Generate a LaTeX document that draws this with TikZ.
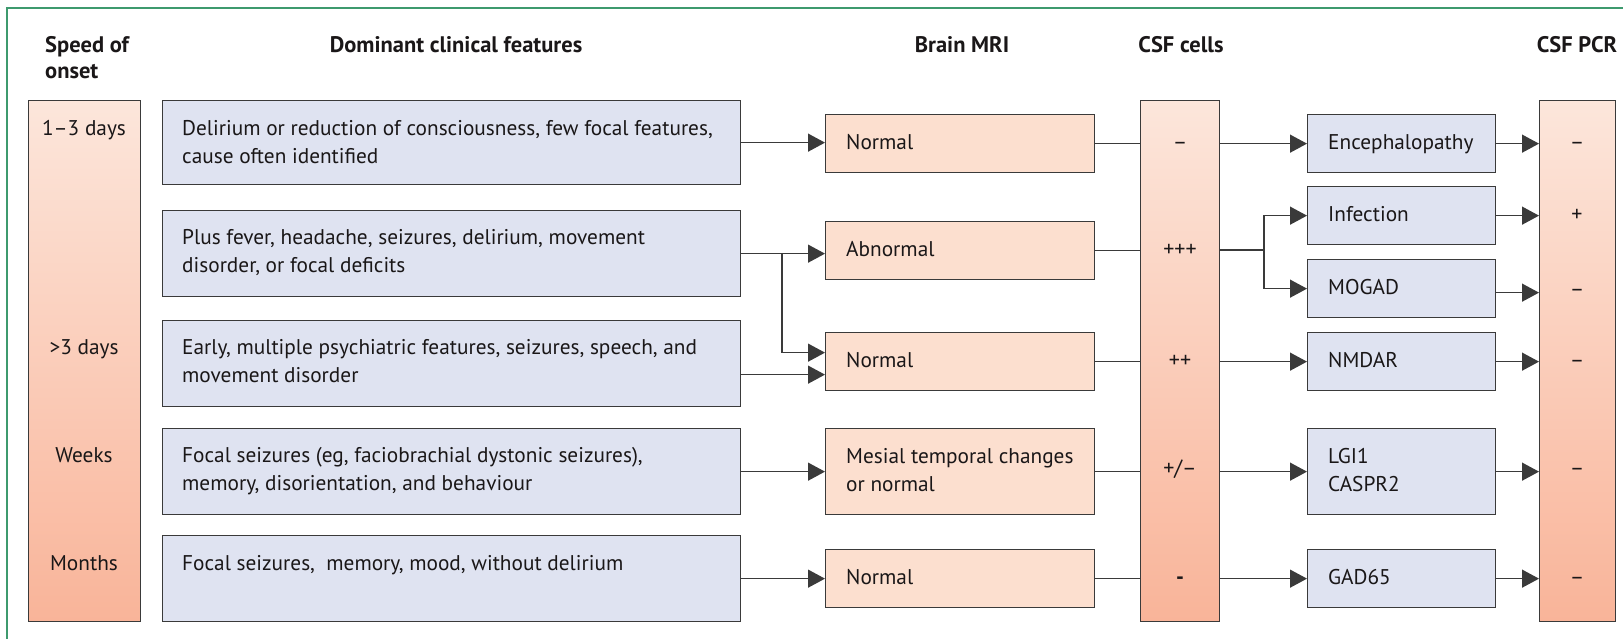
\documentclass[tikz,border=0pt]{standalone}
\usepackage{fontspec}
\setmainfont{PT Sans}
\usetikzlibrary{arrows.meta}

\definecolor{lav}{HTML}{DFE3F1}
\definecolor{mri}{HTML}{FCDFCF}
\definecolor{gradtop}{HTML}{FCE6DB}
\definecolor{gradbot}{HTML}{F9B499}
\definecolor{edge}{HTML}{3A3A3A}
\definecolor{ink}{HTML}{1A1718}
\definecolor{frame}{HTML}{3E9A6E}

\tikzset{
  box/.style={draw=edge, line width=1.3pt, inner sep=0pt, anchor=north west},
  clin/.style={box, fill=lav, minimum width=578pt},
  mribox/.style={box, fill=mri, minimum width=269pt},
  agent/.style={box, fill=lav, minimum width=188pt},
  column/.style={box, top color=gradtop, bottom color=gradbot, minimum height=521pt},
  head/.style={font=\fontsize{22.5}{26}\selectfont\bfseries, text=ink, inner sep=0pt, yshift=-6pt},
  body/.style={font=\fontsize{21.3}{28}\selectfont, text=ink, inner sep=0pt, align=left, yshift=-4pt},
  sign/.style={font=\fontsize{22}{24}\selectfont, text=ink, inner sep=0pt, yshift=-4pt},
  link/.style={draw=edge, line width=1.3pt},
  arr/.style={link, -{Triangle[length=17pt, width=18pt]}},
}

\begin{document}
\begin{tikzpicture}[x=1pt, y=-1pt]
\useasboundingbox (0,0) rectangle (1623,639);

% green frame (top and left rules)
\draw[frame, line width=1.5pt] (7,639) -- (7,8) -- (1623,8);

% column headings
\node[head, anchor=mid west, align=left] (h-speed) at (45,70) {Speed of\\onset};
\node[head, anchor=mid] (h-clin) at (456,44) {Dominant clinical features};
\node[head, anchor=mid] (h-mri) at (962,44) {Brain MRI};
\node[head, anchor=mid] (h-cells) at (1181,44) {CSF cells};
\node[head, anchor=mid] (h-pcr) at (1577,44) {CSF PCR};

% tall shaded columns
\node[column, minimum width=112pt] (speed) at (28,100) {};
\node[column, minimum width=79pt] (cells) at (1140,100) {};
\node[column, minimum width=76pt] (pcr) at (1539,100) {};

% speed of onset
\node[body, anchor=mid] (s1) at (84,129) {1–3 days};
\node[body, anchor=mid] (s2) at (84,348) {>3 days};
\node[body, anchor=mid] (s3) at (84,456) {Weeks};
\node[body, anchor=mid] (s4) at (84,564) {Months};

% clinical features
\node[clin, minimum height=84pt] (c1) at (162,100) {};
\node[clin, minimum height=86pt] (c2) at (162,210) {};
\node[clin, minimum height=86pt] (c3) at (162,320) {};
\node[clin, minimum height=86pt] (c4) at (162,428) {};
\node[clin, minimum height=86pt] (c5) at (162,535) {};
\node[body, anchor=mid west] (tc1) at (182,129) {Delirium or reduction of consciousness, few focal features,};
\node[body, anchor=mid west] (tc1b) at (182,157) {cause often identified};
\node[body, anchor=mid west] (tc2) at (182,238) {Plus fever, headache, seizures, delirium, movement};
\node[body, anchor=mid west] (tc2b) at (182,266) {disorder, or focal deficits};
\node[body, anchor=mid west] (tc3) at (182,348) {Early, multiple psychiatric features, seizures, speech, and};
\node[body, anchor=mid west] (tc3b) at (182,376) {movement disorder};
\node[body, anchor=mid west] (tc4) at (182,456) {Focal seizures (eg, faciobrachial dystonic seizures),};
\node[body, anchor=mid west] (tc4b) at (182,484) {memory, disorientation, and behaviour};
\node[body, anchor=mid west] (tc5) at (182,564) {Focal seizures,\ \ memory, mood, without delirium};

% brain MRI
\node[mribox, minimum height=58pt] (m1) at (825,114) {};
\node[mribox, minimum height=58pt] (m2) at (825,221) {};
\node[mribox, minimum height=58pt] (m3) at (825,332) {};
\node[mribox, minimum height=86pt] (m4) at (825,428) {};
\node[mribox, minimum height=58pt] (m5) at (825,549) {};
\node[body, anchor=mid west] (tm1) at (846,143) {Normal};
\node[body, anchor=mid west] (tm2) at (846,250) {Abnormal};
\node[body, anchor=mid west] (tm3) at (846,361) {Normal};
\node[body, anchor=mid west] (tm4) at (846,457) {Mesial temporal changes};
\node[body, anchor=mid west] (tm4b) at (846,485) {or normal};
\node[body, anchor=mid west] (tm5) at (846,578) {Normal};

% CSF cell counts
\node[sign, anchor=mid] (k1) at (1180,143) {–};
\node[sign, anchor=mid] (k2) at (1180,250) {+++};
\node[sign, anchor=mid] (k3) at (1180,361) {++};
\node[sign, anchor=mid] (k4) at (1180,469) {+/–};
\node[sign, anchor=mid] (k5) at (1180,578) {\bfseries -};

% aetiology
\node[agent, minimum height=58pt] (enc) at (1307,114) {};
\node[agent, minimum height=58pt] (inf) at (1307,186) {};
\node[agent, minimum height=58pt] (mog) at (1307,259) {};
\node[agent, minimum height=58pt] (nmd) at (1307,332) {};
\node[agent, minimum height=86pt] (lgi) at (1307,428) {};
\node[agent, minimum height=58pt] (gad) at (1307,549) {};
\node[body, anchor=mid west] (te) at (1328,143) {Encephalopathy};
\node[body, anchor=mid west] (ti) at (1328,215) {Infection};
\node[body, anchor=mid west] (tg) at (1328,288) {MOGAD};
\node[body, anchor=mid west] (tn) at (1328,361) {NMDAR};
\node[body, anchor=mid west] (tl) at (1328,457) {LGI1};
\node[body, anchor=mid west] (tlb) at (1328,485) {CASPR2};
\node[body, anchor=mid west] (tgd) at (1328,578) {GAD65};

% CSF PCR results
\node[sign, anchor=mid] (p1) at (1577,143) {–};
\node[sign, anchor=mid] (p2) at (1577,215) {+};
\node[sign, anchor=mid] (p3) at (1577,290) {–};
\node[sign, anchor=mid] (p4) at (1577,361) {–};
\node[sign, anchor=mid] (p5) at (1577,469) {–};
\node[sign, anchor=mid] (p6) at (1577,578) {–};

% clinical features -> MRI
\draw[arr] (c1.east) -- (m1.west |- c1.east);
\draw[arr] (c2.east) -- (m2.west |- c2.east);
\coordinate (fork1) at (782,253);
\draw[arr] (fork1) |- ([yshift=9pt]m3.west);
\draw[arr] ([yshift=-11pt]c3.east) -- ([yshift=-11pt]c3.east -| m3.west);
\draw[arr] (c4.east) -- (m4.west |- c4.east);
\draw[arr] (c5.east) -- (m5.west |- c5.east);

% MRI -> CSF cells
\draw[link] (m1.east) -- (cells.west |- m1.east);
\draw[link] (m2.east) -- (cells.west |- m2.east);
\draw[link] (m3.east) -- (cells.west |- m3.east);
\draw[link] (m4.east) -- (cells.west |- m4.east);
\draw[link] (m5.east) -- (cells.west |- m5.east);

% CSF cells -> aetiology
\draw[arr] (cells.east |- enc.west) -- (enc.west);
\coordinate (fork2) at (1264,250);
\draw[link] (cells.east |- fork2) -- (fork2);
\draw[arr] (fork2) |- (inf.west);
\draw[arr] (fork2) |- (mog.west);
\draw[arr] (cells.east |- nmd.west) -- (nmd.west);
\draw[arr] (cells.east |- lgi.west) -- (lgi.west);
\draw[arr] (cells.east |- gad.west) -- (gad.west);

% aetiology -> CSF PCR
\draw[arr] (enc.east) -- (pcr.west |- enc.east);
\draw[arr] (inf.east) -- (pcr.west |- inf.east);
\draw[arr] ([yshift=-4pt]mog.east) -- ([yshift=-4pt]mog.east -| pcr.west);
\draw[arr] (nmd.east) -- (pcr.west |- nmd.east);
\draw[arr] (lgi.east) -- (pcr.west |- lgi.east);
\draw[arr] (gad.east) -- (pcr.west |- gad.east);
\end{tikzpicture}
\end{document}
